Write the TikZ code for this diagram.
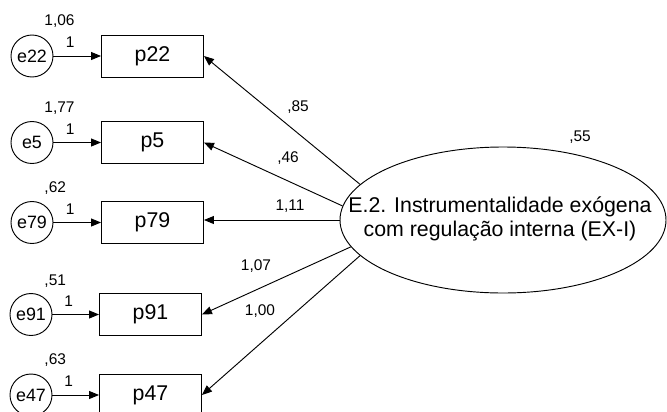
\documentclass[tikz,border=0pt]{standalone}
\usepackage{fontspec}
\setmainfont{Liberation Sans}
\usetikzlibrary{arrows.meta,shapes.geometric}
\begin{document}
\begin{tikzpicture}[x=0.75pt,y=-0.75pt,
  every node/.style={inner sep=0pt},
  line width=0.7pt,
  errnode/.style={draw,circle,minimum size=31.5pt,font=\fontsize{13.4}{15}\selectfont},
  obsnode/.style={draw,rectangle,minimum width=76.5pt,minimum height=31.5pt,font=\fontsize{16}{18}\selectfont},
  latnode/.style={draw,ellipse,minimum width=244.5pt,minimum height=109.5pt},
  numlabel/.style={font=\fontsize{11.6}{13}\selectfont},
  arr/.style={-{Triangle[length=7.5pt,width=6pt]}}
]
\useasboundingbox (0,0) rectangle (667,411);

% latent factor
\node[latnode] (F) at (503,220) {};
\node[align=center,font=\fontsize{16}{18}\selectfont] (Ft) at (500,219)
  {E.2. Instrumentalidade exógena\\com regulação interna (EX-I)};
\node[numlabel] (v55) at (580,137) {,55};

% observed indicators
\node[obsnode] (p22) at (152.5,56)  {p22};
\node[obsnode] (p5)  at (152.5,142.5) {p5};
\node[obsnode] (p79) at (152.5,222.5) {p79};
\node[obsnode] (p91) at (150.5,314.5) {p91};
\node[obsnode] (p47) at (150.5,395) {p47};

% error terms
\node[errnode] (e22) at (32,56)  {e22};
\node[errnode] (e5)  at (32,142.5) {e5};
\node[errnode] (e79) at (32,222.5) {e79};
\node[errnode] (e91) at (31,314.5) {e91};
\node[errnode] (e47) at (31,395) {e47};

% error variances
\node[numlabel,anchor=west] (ve22) at (44,21)  {1,06};
\node[numlabel,anchor=west] (ve5)  at (44,108) {1,77};
\node[numlabel,anchor=west] (ve79) at (44,188) {,62};
\node[numlabel,anchor=west] (ve91) at (44,281) {,51};
\node[numlabel,anchor=west] (ve47) at (44,360) {,63};

% error paths fixed to 1
\draw[arr] (e22) -- (p22.west) node[numlabel,pos=0.35,above=6pt] {1};
\draw[arr] (e5)  -- (p5.west)  node[numlabel,pos=0.35,above=6pt] {1};
\draw[arr] (e79) -- (p79.west) node[numlabel,pos=0.35,above=6pt] {1};
\draw[arr] (e91) -- (p91.west) node[numlabel,pos=0.35,above=6pt] {1};
\draw[arr] (e47) -- (p47.west) node[numlabel,pos=0.35,above=6pt] {1};

% factor loadings
\draw[arr] (F.166.4) -- (p22.east);
\draw[arr] (F.175.4) -- (p5.east);
\draw[arr] (F.180)   -- (F.180 -| p79.east);
\draw[arr] (F.190.6) -- (p91.east);
\draw[arr] (F.194.8) -- (p47.east);

\node[numlabel] (l22) at (298,107) {,85};
\node[numlabel] (l5)  at (288,158) {,46};
\node[numlabel] (l79) at (290,206) {1,11};
\node[numlabel] (l91) at (256,266) {1,07};
\node[numlabel] (l47) at (260,311) {1,00};
\end{tikzpicture}
\end{document}
